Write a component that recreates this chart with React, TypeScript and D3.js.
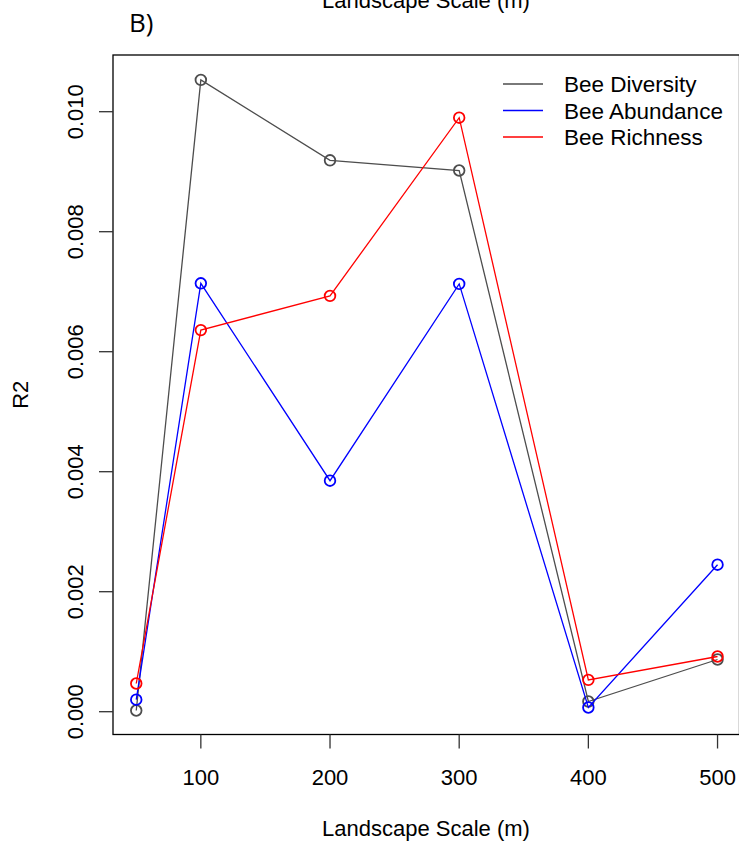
import React from "react";
import * as d3 from "d3";

const scales = [50, 100, 200, 300, 400, 500];
const beeDiversity = [0.00002, 0.01053, 0.00919, 0.00902, 0.00017, 0.00087];
const beeAbundance = [0.0002, 0.00714, 0.00385, 0.00713, 0.00007, 0.00245];
const beeRichness = [0.00047, 0.00636, 0.00693, 0.0099, 0.00053, 0.00092];
const seriesNames = ["Bee Diversity", "Bee Abundance", "Bee Richness"];
const seriesColors = ["#4d4d4d", "#0000ff", "#ff0000"];
const xTicks = [100, 200, 300, 400, 500];
const yTicks = [0, 0.002, 0.004, 0.006, 0.008, 0.01];
const yTickLabels = ["0.000", "0.002", "0.004", "0.006", "0.008", "0.010"];

const W = 739;
const H = 844;
const L = 113;
const R = 739.5;
const T = 55;
const B = 734.5;
const FONT = "'Liberation Sans', Arial, Helvetica, sans-serif";

export default function App() {
  const x = d3.scaleLinear().domain([32, 517]).range([L, R]);
  const y = d3.scaleLinear().domain([-0.00038, 0.010945]).range([B, T]);
  const series = [beeDiversity, beeAbundance, beeRichness];
  const line = d3
    .line<[number, number]>()
    .x((d) => x(d[0]))
    .y((d) => y(d[1]));

  return (
    <svg
      width={W}
      height={H}
      style={{ position: "absolute", left: 0, top: 0, background: "#fff" }}
      fontFamily={FONT}
    >
      <rect x={0} y={0} width={W} height={H} fill="#fff" />
      <text x={426} y={8} fontSize={22} textAnchor="middle" fill="#000">
        Landscape Scale (m)
      </text>
      <text x={129} y={32} fontSize={26} fill="#000" fontFamily="'Open Sans', 'Liberation Sans', sans-serif">
        B)
      </text>
      {series.map((vals, si) => {
        const pts = scales.map((s, i) => [s, vals[i]] as [number, number]);
        return (
          <g key={si}>
            <path
              d={line(pts) || ""}
              fill="none"
              stroke={seriesColors[si]}
              strokeWidth={1.3}
            />
            {pts.map((p, i) => (
              <circle
                key={i}
                cx={x(p[0])}
                cy={y(p[1])}
                r={5.3}
                fill="none"
                stroke={seriesColors[si]}
                strokeWidth={1.8}
              />
            ))}
          </g>
        );
      })}
      <rect
        x={L}
        y={T}
        width={R - L}
        height={B - T}
        fill="none"
        stroke="#000"
        strokeWidth={1.3}
      />
      {xTicks.map((t) => (
        <g key={t}>
          <line x1={x(t)} x2={x(t)} y1={B} y2={B + 14} stroke="#333" strokeWidth={1.3} />
          <text x={x(t)} y={785} fontSize={22} textAnchor="middle" fill="#000">
            {t}
          </text>
        </g>
      ))}
      {yTicks.map((t, i) => (
        <g key={t}>
          <line x1={L - 14} x2={L} y1={y(t)} y2={y(t)} stroke="#333" strokeWidth={1.3} />
          <text
            transform={`translate(83,${y(t)}) rotate(-90)`}
            fontSize={22}
            textAnchor="middle"
            fill="#000"
          >
            {yTickLabels[i]}
          </text>
        </g>
      ))}
      <text x={426} y={836} fontSize={22} textAnchor="middle" fill="#000">
        Landscape Scale (m)
      </text>
      <text
        transform={`translate(28,${(T + B) / 2}) rotate(-90)`}
        fontSize={22}
        textAnchor="middle"
        fill="#000"
      >
        R2
      </text>
      {seriesNames.map((n, i) => {
        const ly = 84 + i * 26.5;
        return (
          <g key={n}>
            <line x1={503} x2={543} y1={ly} y2={ly} stroke={seriesColors[i]} strokeWidth={1.3} />
            <text x={564} y={ly + 8} fontSize={22.5} fill="#000">
              {n}
            </text>
          </g>
        );
      })}
    </svg>
  );
}
